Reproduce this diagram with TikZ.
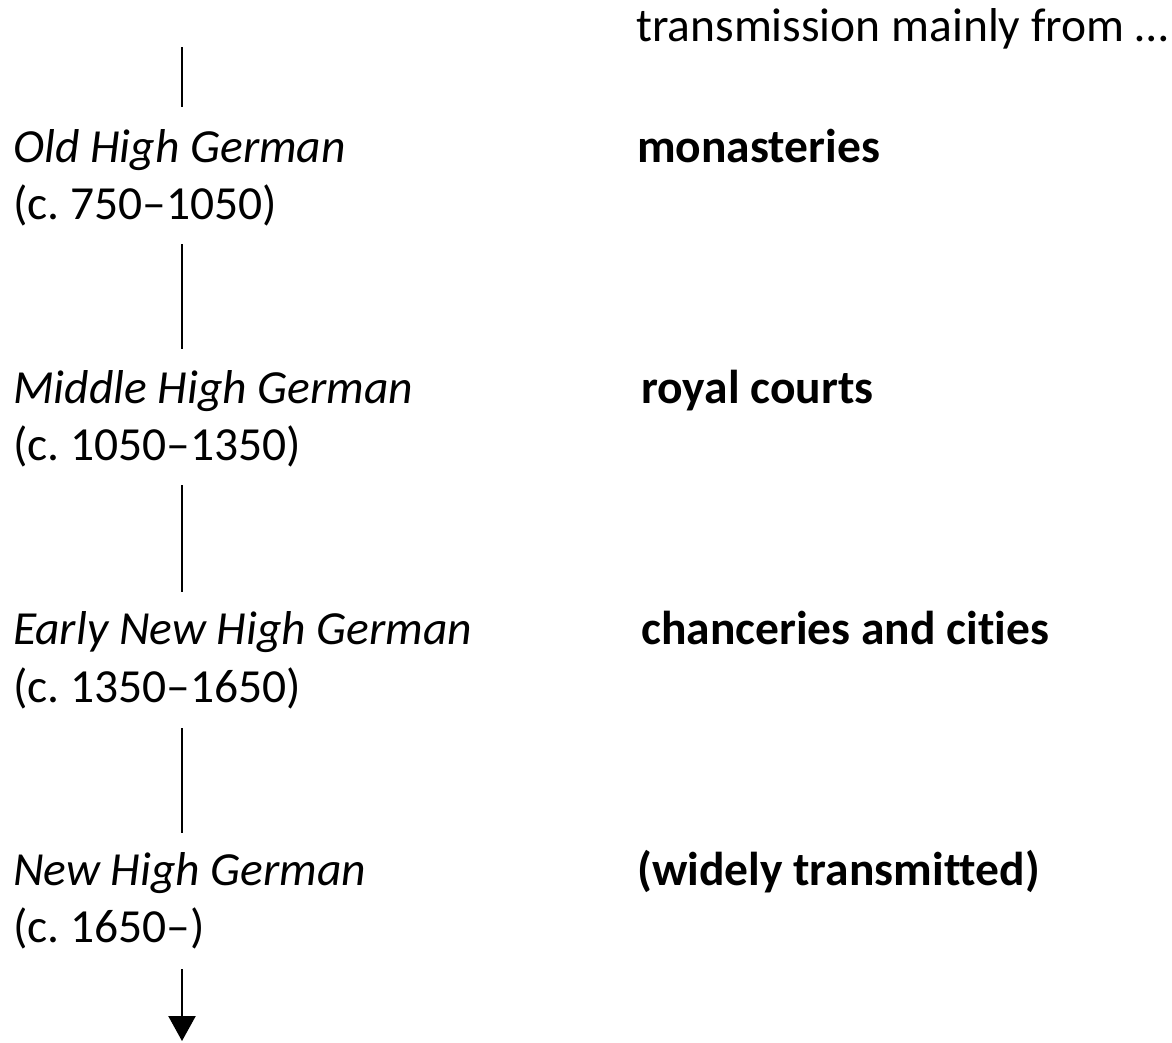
\documentclass[tikz,border=0pt]{standalone}
\usepackage{fontspec}
\setmainfont{Carlito}[Ligatures={NoCommon}]
\usetikzlibrary{arrows.meta}
\frenchspacing
\begin{document}
\begin{tikzpicture}[x=1pt,y=1pt,
  lbl/.style={anchor=base west,inner sep=0pt,font=\fontsize{47.5}{56}\selectfont},
  period/.style={lbl,font=\fontsize{47.5}{56}\selectfont\itshape},
  source/.style={lbl,font=\fontsize{47.5}{56}\selectfont\bfseries},
  spine/.style={line width=2.4pt,black},
  spinearrow/.style={spine,-{Triangle[width=27pt,length=25pt]}}]
\useasboundingbox (0,0) rectangle (1172,-1042);
% header
\node[lbl] (head) at (636,-41) {transmission mainly from …};
% periods
\node[period] (ohg) at (13,-162) {Old High German};
\node[lbl] (ohgd) at (13,-219) {(c. 750–1050)};
\node[period] (mhg) at (13,-403) {Middle High German};
\node[lbl] (mhgd) at (13,-460) {(c. 1050–1350)};
\node[period] (enhg) at (13,-644) {Early New High German};
\node[lbl] (enhgd) at (13,-702) {(c. 1350–1650)};
\node[period] (nhg) at (13,-885) {New High German};
\node[lbl] (nhgd) at (13,-942) {(c. 1650–)};
% sources
\node[source] (s1) at (637,-162) {monasteries};
\node[source] (s2) at (641,-403) {royal courts};
\node[source] (s3) at (641,-644) {chanceries and cities};
\node[source] (s4) at (637,-885) {(widely transmitted)};
% spine
\coordinate (a1) at (182,-47);  \coordinate (b1) at (182,-107);
\coordinate (a2) at (182,-244); \coordinate (b2) at (182,-349);
\coordinate (a3) at (182,-485); \coordinate (b3) at (182,-592);
\coordinate (a4) at (182,-728); \coordinate (b4) at (182,-833);
\coordinate (a5) at (182,-969); \coordinate (b5) at (182,-1041);
\draw[spine] (a1) -- (b1);
\draw[spine] (a2) -- (b2);
\draw[spine] (a3) -- (b3);
\draw[spine] (a4) -- (b4);
\draw[spinearrow] (a5) -- (b5);
\end{tikzpicture}
\end{document}
